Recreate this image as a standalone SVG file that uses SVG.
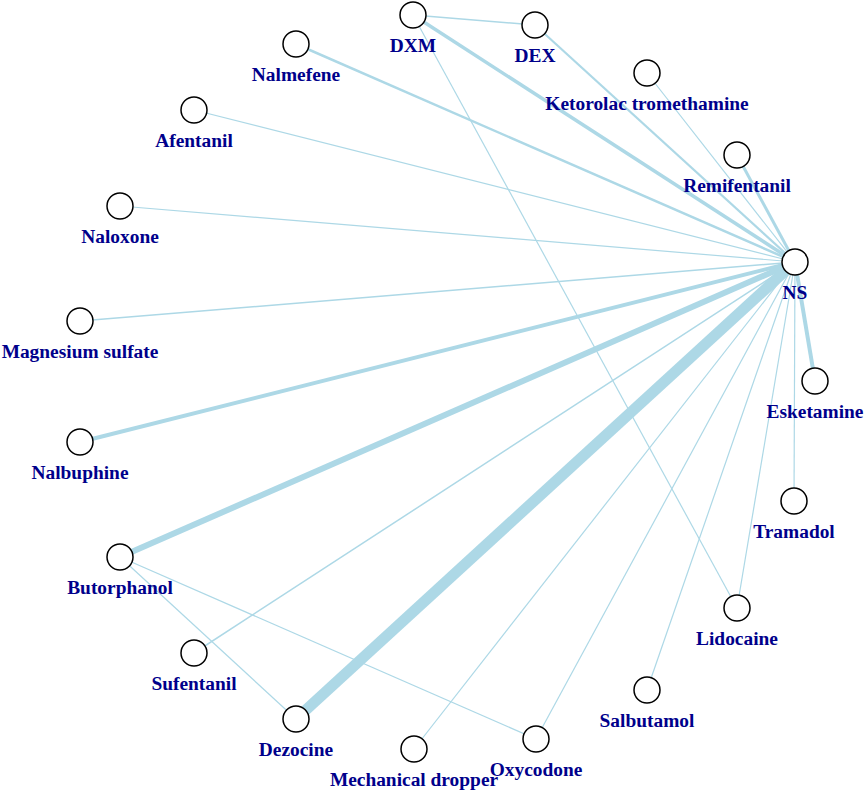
<svg xmlns="http://www.w3.org/2000/svg" width="865" height="792" viewBox="0 0 865 792">
<style>
.e{stroke:#ADD8E6;fill:none;stroke-linecap:butt}
.n circle{fill:#fff;stroke:#000;stroke-width:1.5}
.n text{font-family:"Liberation Serif",serif;font-weight:bold;font-size:19.4px;fill:#00008B;text-anchor:middle}
</style>
<rect width="865" height="792" fill="#fff"/>
<g id="edges">
<line class="e" x1="413" y1="15" x2="535" y2="25" stroke-width="1.5"/>
<line class="e" x1="413" y1="15" x2="795" y2="262" stroke-width="3.5"/>
<line class="e" x1="413" y1="15" x2="737" y2="608" stroke-width="1.2"/>
<line class="e" x1="535" y1="25" x2="795" y2="262" stroke-width="2.2"/>
<line class="e" x1="647" y1="73" x2="795" y2="262" stroke-width="1.2"/>
<line class="e" x1="737" y1="155" x2="795" y2="262" stroke-width="3"/>
<line class="e" x1="296" y1="44" x2="795" y2="262" stroke-width="2.5"/>
<line class="e" x1="194" y1="110" x2="795" y2="262" stroke-width="1.2"/>
<line class="e" x1="120" y1="206" x2="795" y2="262" stroke-width="1.2"/>
<line class="e" x1="80" y1="321" x2="795" y2="262" stroke-width="1.5"/>
<line class="e" x1="80" y1="442" x2="795" y2="262" stroke-width="4"/>
<line class="e" x1="120" y1="557" x2="795" y2="262" stroke-width="6"/>
<line class="e" x1="120" y1="557" x2="296" y2="719" stroke-width="1.2"/>
<line class="e" x1="120" y1="557" x2="536" y2="739" stroke-width="1.2"/>
<line class="e" x1="194" y1="653" x2="795" y2="262" stroke-width="1.5"/>
<line class="e" x1="296" y1="719" x2="795" y2="262" stroke-width="11"/>
<line class="e" x1="414" y1="749" x2="795" y2="262" stroke-width="1.2"/>
<line class="e" x1="536" y1="739" x2="795" y2="262" stroke-width="1.2"/>
<line class="e" x1="647" y1="690" x2="795" y2="262" stroke-width="1.2"/>
<line class="e" x1="737" y1="608" x2="795" y2="262" stroke-width="1.2"/>
<line class="e" x1="794" y1="501" x2="795" y2="262" stroke-width="1.2"/>
<line class="e" x1="815" y1="381" x2="795" y2="262" stroke-width="4"/>
</g>
<g id="n-NS" class="n"><circle cx="795" cy="262" r="13"/><text x="795" y="299">NS</text></g>
<g id="n-DXM" class="n"><circle cx="413" cy="15" r="13"/><text x="413" y="52">DXM</text></g>
<g id="n-DEX" class="n"><circle cx="535" cy="25" r="13"/><text x="535" y="62">DEX</text></g>
<g id="n-Ketorolac" class="n"><circle cx="647" cy="73" r="13"/><text x="647" y="110">Ketorolac tromethamine</text></g>
<g id="n-Remifentanil" class="n"><circle cx="737" cy="155" r="13"/><text x="737" y="192">Remifentanil</text></g>
<g id="n-Esketamine" class="n"><circle cx="815" cy="381" r="13"/><text x="815" y="418">Esketamine</text></g>
<g id="n-Tramadol" class="n"><circle cx="794" cy="501" r="13"/><text x="794" y="538">Tramadol</text></g>
<g id="n-Lidocaine" class="n"><circle cx="737" cy="608" r="13"/><text x="737" y="645">Lidocaine</text></g>
<g id="n-Salbutamol" class="n"><circle cx="647" cy="690" r="13"/><text x="647" y="727">Salbutamol</text></g>
<g id="n-Oxycodone" class="n"><circle cx="536" cy="739" r="13"/><text x="536" y="776">Oxycodone</text></g>
<g id="n-Mechanical" class="n"><circle cx="414" cy="749" r="13"/><text x="414" y="786">Mechanical dropper</text></g>
<g id="n-Dezocine" class="n"><circle cx="296" cy="719" r="13"/><text x="296" y="756">Dezocine</text></g>
<g id="n-Sufentanil" class="n"><circle cx="194" cy="653" r="13"/><text x="194" y="690">Sufentanil</text></g>
<g id="n-Butorphanol" class="n"><circle cx="120" cy="557" r="13"/><text x="120" y="594">Butorphanol</text></g>
<g id="n-Nalbuphine" class="n"><circle cx="80" cy="442" r="13"/><text x="80" y="479">Nalbuphine</text></g>
<g id="n-Magnesium" class="n"><circle cx="80" cy="321" r="13"/><text x="80" y="358">Magnesium sulfate</text></g>
<g id="n-Naloxone" class="n"><circle cx="120" cy="206" r="13"/><text x="120" y="243">Naloxone</text></g>
<g id="n-Afentanil" class="n"><circle cx="194" cy="110" r="13"/><text x="194" y="147">Afentanil</text></g>
<g id="n-Nalmefene" class="n"><circle cx="296" cy="44" r="13"/><text x="296" y="81">Nalmefene</text></g>
</svg>
